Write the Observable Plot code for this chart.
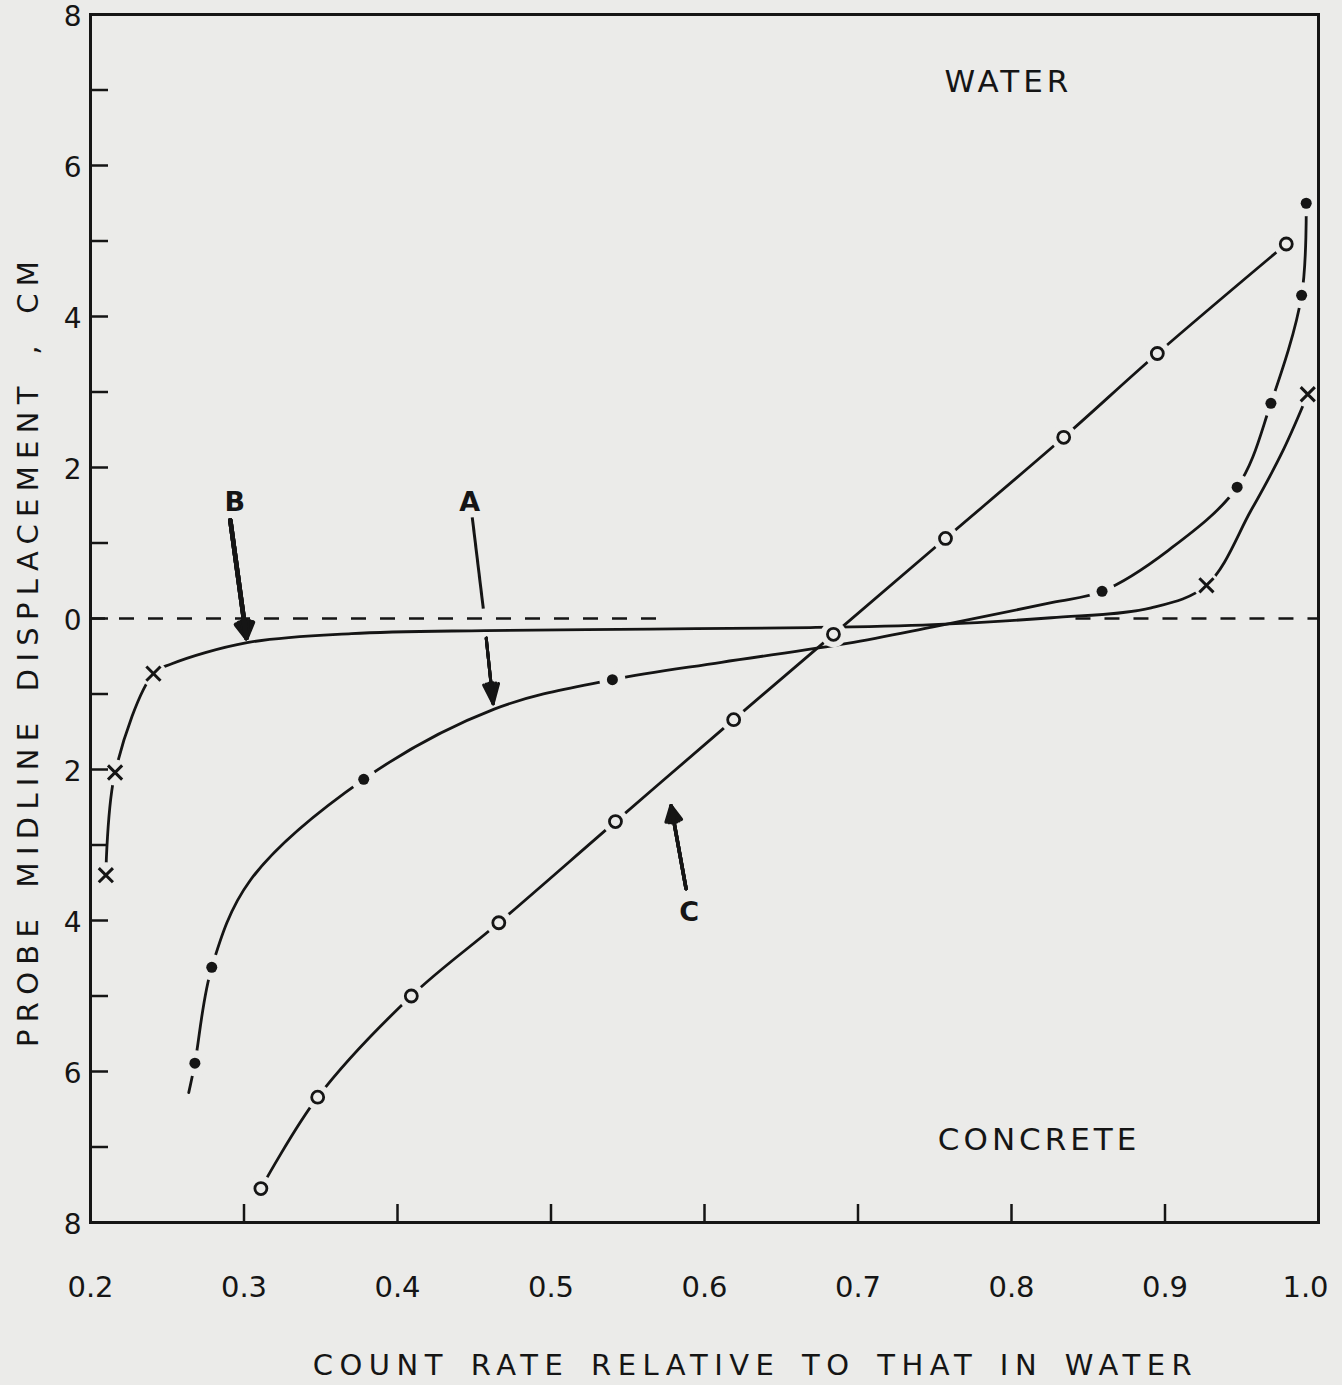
<!DOCTYPE html>
<html>
<head>
<meta charset="utf-8">
<script src="https://cdn.jsdelivr.net/npm/d3@7"></script>
<script src="https://cdn.jsdelivr.net/npm/@observablehq/plot@0.6"></script>
<style>
  html, body { margin: 0; padding: 0; background: #ebebe9; }
  #chart svg { display: block; }
</style>
</head>
<body>
<div id="chart"></div>
<script>
// Probe count rate against midline displacement across a water / concrete boundary.
// x: count rate relative to that in water; y: displacement in cm (+ toward water, - toward concrete).

// Curve A (filled dots)
const aRate = [0.268, 0.279, 0.378, 0.540, 0.859, 0.947, 0.969, 0.989, 0.992];
const aDisp = [-5.89, -4.62, -2.13, -0.81, 0.36, 1.74, 2.85, 4.28, 5.50];
// traced course of curve A, through and beyond its points
const aLineRate = [0.264, 0.268, 0.279, 0.304, 0.378, 0.463, 0.540, 0.611, 0.693, 0.749, 0.826, 0.859, 0.902, 0.947, 0.969, 0.989, 0.992];
const aLineDisp = [-6.28, -5.89, -4.62, -3.47, -2.13, -1.20, -0.81, -0.58, -0.33, -0.11, 0.21, 0.36, 0.90, 1.74, 2.85, 4.28, 5.50];

// Curve B (crosses)
const bRate = [0.210, 0.216, 0.241, 0.927, 0.993];
const bDisp = [-3.40, -2.04, -0.73, 0.44, 2.97];
const bLineRate = [0.210, 0.216, 0.241, 0.253, 0.302, 0.370, 0.457, 0.565, 0.669, 0.749, 0.826, 0.891, 0.927, 0.956, 0.977, 0.993];
const bLineDisp = [-3.40, -2.04, -0.73, -0.60, -0.32, -0.20, -0.16, -0.14, -0.12, -0.08, 0.01, 0.14, 0.44, 1.43, 2.23, 2.97];

// Curve C (open circles)
const cRate = [0.311, 0.348, 0.409, 0.466, 0.542, 0.619, 0.684, 0.757, 0.834, 0.895, 0.979];
const cDisp = [-7.55, -6.34, -5.00, -4.03, -2.69, -1.34, -0.21, 1.06, 2.40, 3.51, 4.96];

// dashed zero-displacement reference (two stretches)
const zeroFrom = [0.200, 0.842];
const zeroTo = [0.572, 1.000];

// axis ticks and labels
const xTickMarks = [0.3, 0.4, 0.5, 0.6, 0.7, 0.8, 0.9];
const xTickLabels = [0.2, 0.3, 0.4, 0.5, 0.6, 0.7, 0.8, 0.9];
const xEndLabel = [1.0];
const yTickMarks = [-7, -6, -5, -4, -3, -2, -1, 0, 1, 2, 3, 4, 5, 6, 7];
const yTickLabels = [-8, -6, -4, -2, 0, 2, 4, 6, 8];

// texts
const xTitle = "COUNT RATE RELATIVE TO THAT IN WATER";
const yTitle = "PROBE MIDLINE DISPLACEMENT , CM";
const regionNames = ["WATER", "CONCRETE"];
const regionRate = [0.798, 0.818];
const regionDisp = [7.10, -6.91];
const curveNames = ["B", "A", "C"];
const curveNameRate = [0.294, 0.447, 0.590];
const curveNameDisp = [1.54, 1.54, -3.89];

// pointer arrows from the curve letters
const pointerB = [{x1: 0.2911, y1: 1.30, x2: 0.3016, y2: -0.26}];
const pointerAUpper = [{x1: 0.4487, y1: 1.34, x2: 0.4559, y2: 0.13}];
const pointerALower = [{x1: 0.4578, y1: -0.26, x2: 0.4623, y2: -1.13}];
const pointerC = [{x1: 0.5880, y1: -3.58, x2: 0.5782, y2: -2.48}];

const ink = "#151515";
const paper = "#ebebe9";
const font = "'DejaVu Sans', sans-serif";
const digitFont = "'DejaVu Sans', sans-serif";

const rows = (xs, ys) => xs.map((x, i) => ({x, y: ys[i]}));
const curveA = rows(aLineRate, aLineDisp);
const curveB = rows(bLineRate, bLineDisp);
const curveC = rows(cRate, cDisp);
const pointsA = rows(aRate, aDisp);
const pointsB = rows(bRate, bDisp);
const pointsC = rows(cRate, cDisp);
const allPoints = [...pointsA, ...pointsB, ...pointsC];
const zeroLine = zeroFrom.map((x1, i) => ({x1, x2: zeroTo[i]}));
const regions = regionNames.map((t, i) => ({t, x: regionRate[i], y: regionDisp[i]}));
const curveLabels = curveNames.map((t, i) => ({t, x: curveNameRate[i], y: curveNameDisp[i]}));

// spaced lettering for the titles
const spaced = (ls, ws) => (index, scales, values, dims, context, next) => {
  const g = next(index, scales, values, dims, context);
  g.setAttribute("letter-spacing", ls);
  if (ws) g.setAttribute("word-spacing", ws);
  return g;
};

// arrow with a solid head: stacked heads of narrowing angle
const pointer = (data, sw, len, angle) => [angle, angle * 0.66, angle * 0.33, 4].map(a =>
  Plot.arrow(data, {x1: "x1", y1: "y1", x2: "x2", y2: "y2", stroke: ink, strokeWidth: sw, headLength: len, headAngle: a}));

const xLabelStyle = {tickSize: 0, tickPadding: 54, tickFormat: d3.format(".1f"), fontSize: 29, fontFamily: digitFont, fill: ink, label: null};

const chart = Plot.plot({
  width: 1342,
  height: 1385,
  marginLeft: 90,
  marginRight: 24,
  marginTop: 14,
  marginBottom: 163,
  style: {background: "transparent", color: ink, fontFamily: font},
  x: {domain: [0.2, 1.0]},
  y: {domain: [-8, 8]},
  marks: [
    // zero reference
    Plot.ruleY(zeroLine, {y: 0, x1: "x1", x2: "x2", stroke: ink, strokeWidth: 2.4, strokeDasharray: "15,14"}),
    // curves
    Plot.line(curveA, {x: "x", y: "y", curve: "catmull-rom", stroke: ink, strokeWidth: 2.8}),
    Plot.line(curveB, {x: "x", y: "y", curve: "catmull-rom", stroke: ink, strokeWidth: 2.8}),
    Plot.line(curveC, {x: "x", y: "y", curve: "catmull-rom", stroke: ink, strokeWidth: 2.8}),
    // clear the line around each plotted point
    Plot.dot(allPoints, {x: "x", y: "y", r: 13, fill: paper, stroke: "none"}),
    // plotted points
    Plot.dot(pointsA, {x: "x", y: "y", r: 5.5, fill: ink, stroke: "none"}),
    Plot.dot(pointsB, {x: "x", y: "y", symbol: "times", r: 6.5, stroke: ink, strokeWidth: 3}),
    Plot.dot(pointsC, {x: "x", y: "y", r: 6, fill: paper, stroke: ink, strokeWidth: 2.8}),
    // pointers
    ...pointer(pointerB, 4.5, 5.7, 60),
    Plot.link(pointerAUpper, {x1: "x1", y1: "y1", x2: "x2", y2: "y2", stroke: ink, strokeWidth: 3}),
    ...pointer(pointerALower, 3, 10.5, 42),
    ...pointer(pointerC, 3.5, 7.3, 54),
    // labels inside the plot
    Plot.text(regions, {x: "x", y: "y", text: "t", fontSize: 31, fill: ink, render: spaced("4px")}),
    Plot.text(curveLabels, {x: "x", y: "y", text: "t", fontSize: 27, fontWeight: "bold", fill: ink}),
    // axes
    Plot.frame({stroke: ink, strokeWidth: 3}),
    Plot.axisX({ticks: xTickMarks, tickSize: -18, strokeWidth: 2.5, fill: "none", label: null}),
    Plot.axisX({ticks: xTickLabels, ...xLabelStyle}),
    Plot.axisX({ticks: xEndLabel, ...xLabelStyle, dx: -13}),
    Plot.axisY({ticks: yTickMarks, tickSize: -18, strokeWidth: 2.5, fill: "none", label: null}),
    Plot.axisY({ticks: yTickLabels, tickSize: 0, tickPadding: 9, dy: 3, tickFormat: d => String(Math.abs(d)), fontSize: 28, fontFamily: digitFont, fill: ink, label: null}),
    // axis titles
    Plot.text([xTitle], {frameAnchor: "bottom", textAnchor: "middle", lineAnchor: "middle", dx: 51, dy: 143, fontSize: 29, fill: ink, render: spaced("6.5px", "6px")}),
    Plot.text([yTitle], {frameAnchor: "left", textAnchor: "middle", lineAnchor: "middle", rotate: -90, dx: -62, dy: 32, fontSize: 29, fill: ink, render: spaced("7.3px", "8px")})
  ]
});

document.getElementById("chart").appendChild(chart);
</script>
</body>
</html>
